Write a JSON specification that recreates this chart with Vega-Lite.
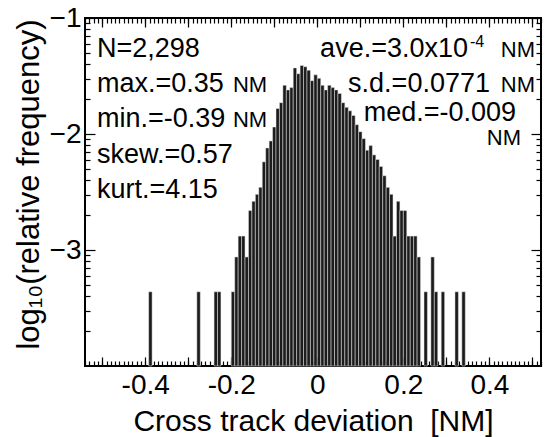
{
  "$schema": "https://vega.github.io/schema/vega-lite/v6.json",
  "width": 456,
  "height": 348,
  "autosize": {"type": "none"},
  "padding": {"left": 85, "top": 18, "right": 7, "bottom": 71},
  "background": "white",
  "config": {
    "view": {"stroke": "black", "strokeWidth": 2},
    "font": "Liberation Sans",
    "axis": {
      "labelFont": "Liberation Sans",
      "titleFont": "Liberation Sans",
      "labelColor": "black",
      "titleColor": "black",
      "tickColor": "black",
      "tickWidth": 1.2,
      "domain": false,
      "grid": false,
      "labelOverlap": false,
      "labelFlush": false,
      "titleFontWeight": "normal"
    }
  },
  "datasets": {
    "hist": [
      {"lo": -0.392, "hi": -0.384, "v": -3.36},
      {"lo": -0.280, "hi": -0.272, "v": -3.36},
      {"lo": -0.240, "hi": -0.232, "v": -3.36},
      {"lo": -0.232, "hi": -0.224, "v": -3.36},
      {"lo": -0.200, "hi": -0.192, "v": -3.36},
      {"lo": -0.192, "hi": -0.184, "v": -3.06},
      {"lo": -0.184, "hi": -0.176, "v": -2.88},
      {"lo": -0.176, "hi": -0.168, "v": -2.88},
      {"lo": -0.168, "hi": -0.160, "v": -3.06},
      {"lo": -0.160, "hi": -0.152, "v": -2.66},
      {"lo": -0.152, "hi": -0.144, "v": -2.58},
      {"lo": -0.144, "hi": -0.136, "v": -2.52},
      {"lo": -0.136, "hi": -0.128, "v": -2.46},
      {"lo": -0.128, "hi": -0.120, "v": -2.24},
      {"lo": -0.120, "hi": -0.112, "v": -2.12},
      {"lo": -0.112, "hi": -0.104, "v": -2.06},
      {"lo": -0.104, "hi": -0.096, "v": -1.94},
      {"lo": -0.096, "hi": -0.088, "v": -1.78},
      {"lo": -0.088, "hi": -0.080, "v": -1.73},
      {"lo": -0.080, "hi": -0.072, "v": -1.58},
      {"lo": -0.072, "hi": -0.064, "v": -1.62},
      {"lo": -0.064, "hi": -0.056, "v": -1.60},
      {"lo": -0.056, "hi": -0.048, "v": -1.43},
      {"lo": -0.048, "hi": -0.040, "v": -1.48},
      {"lo": -0.040, "hi": -0.032, "v": -1.41},
      {"lo": -0.032, "hi": -0.024, "v": -1.42},
      {"lo": -0.024, "hi": -0.016, "v": -1.45},
      {"lo": -0.016, "hi": -0.008, "v": -1.54},
      {"lo": -0.008, "hi": 0.000, "v": -1.49},
      {"lo": 0.000, "hi": 0.008, "v": -1.52},
      {"lo": 0.008, "hi": 0.016, "v": -1.58},
      {"lo": 0.016, "hi": 0.024, "v": -1.62},
      {"lo": 0.024, "hi": 0.032, "v": -1.58},
      {"lo": 0.032, "hi": 0.040, "v": -1.60},
      {"lo": 0.040, "hi": 0.048, "v": -1.62},
      {"lo": 0.048, "hi": 0.056, "v": -1.65},
      {"lo": 0.056, "hi": 0.064, "v": -1.73},
      {"lo": 0.064, "hi": 0.072, "v": -1.77},
      {"lo": 0.072, "hi": 0.080, "v": -1.80},
      {"lo": 0.080, "hi": 0.088, "v": -1.84},
      {"lo": 0.088, "hi": 0.096, "v": -1.92},
      {"lo": 0.096, "hi": 0.104, "v": -1.98},
      {"lo": 0.104, "hi": 0.112, "v": -2.04},
      {"lo": 0.112, "hi": 0.120, "v": -2.14},
      {"lo": 0.120, "hi": 0.128, "v": -2.10},
      {"lo": 0.128, "hi": 0.136, "v": -2.18},
      {"lo": 0.136, "hi": 0.144, "v": -2.22},
      {"lo": 0.144, "hi": 0.152, "v": -2.28},
      {"lo": 0.152, "hi": 0.160, "v": -2.36},
      {"lo": 0.160, "hi": 0.168, "v": -2.46},
      {"lo": 0.168, "hi": 0.176, "v": -2.52},
      {"lo": 0.176, "hi": 0.184, "v": -2.88},
      {"lo": 0.184, "hi": 0.192, "v": -2.58},
      {"lo": 0.192, "hi": 0.200, "v": -2.66},
      {"lo": 0.200, "hi": 0.208, "v": -2.66},
      {"lo": 0.208, "hi": 0.216, "v": -2.88},
      {"lo": 0.216, "hi": 0.224, "v": -2.88},
      {"lo": 0.224, "hi": 0.232, "v": -2.88},
      {"lo": 0.232, "hi": 0.240, "v": -3.06},
      {"lo": 0.248, "hi": 0.256, "v": -3.36},
      {"lo": 0.264, "hi": 0.272, "v": -3.06},
      {"lo": 0.272, "hi": 0.280, "v": -3.36},
      {"lo": 0.288, "hi": 0.296, "v": -3.36},
      {"lo": 0.320, "hi": 0.328, "v": -3.36},
      {"lo": 0.336, "hi": 0.344, "v": -3.36}
    ]
  },
  "layer": [
    {
      "data": {"name": "hist"},
      "mark": {"type": "bar", "fill": "#1c1c1c", "stroke": "#e8e8e8", "strokeWidth": 0.5},
      "encoding": {
        "x": {
          "field": "lo", "type": "quantitative",
          "scale": {"domain": [-0.54, 0.52], "nice": false, "zero": false},
          "axis": {
            "orient": "bottom",
            "offset": -9,
            "tickSize": 9,
            "values": [-0.5, -0.4, -0.3, -0.2, -0.1, 0, 0.1, 0.2, 0.3, 0.4, 0.5],
            "labelExpr": "abs(datum.value*5 - round(datum.value*5)) < 0.001 ? toString(datum.value) : ''",
            "labelFontSize": 28,
            "labelPadding": 5,
            "title": "Cross track deviation \u00a0[NM]",
            "titleFontSize": 30,
            "titleBaseline": "alphabetic",
            "titleAlign": "center",
            "titleY": 73
          }
        },
        "x2": {"field": "hi"},
        "y": {
          "field": "v", "type": "quantitative",
          "scale": {"domain": [-4, -1], "nice": false, "zero": false},
          "axis": {
            "orient": "left",
            "offset": -10,
            "tickSize": 10,
            "values": [-1, -2, -3],
            "labelFontSize": 28,
            "labelPadding": 4,
            "title": "log₁₀(relative frequency)",
            "titleFontSize": 31,
            "titleAngle": -90,
            "titleAlign": "center",
            "titleBaseline": "middle",
            "titleX": -66,
            "titleY": 166
          }
        },
        "y2": {"datum": -4}
      }
    },
    {
      "data": {"name": "hist"},
      "mark": {"type": "bar", "opacity": 0},
      "encoding": {
        "x": {
          "field": "lo", "type": "quantitative",
          "scale": {"domain": [-0.54, 0.52], "nice": false, "zero": false},
          "axis": {
            "orient": "bottom",
            "offset": -5,
            "tickSize": 5,
            "values": [-0.54,-0.53,-0.52,-0.51,-0.5,-0.49,-0.48,-0.47,-0.46,-0.45,-0.44,-0.43,-0.42,-0.41,-0.4,-0.39,-0.38,-0.37,-0.36,-0.35,-0.34,-0.33,-0.32,-0.31,-0.3,-0.29,-0.28,-0.27,-0.26,-0.25,-0.24,-0.23,-0.22,-0.21,-0.2,-0.19,-0.18,-0.17,-0.16,-0.15,-0.14,-0.13,-0.12,-0.11,-0.1,-0.09,-0.08,-0.07,-0.06,-0.05,-0.04,-0.03,-0.02,-0.01,0,0.01,0.02,0.03,0.04,0.05,0.06,0.07,0.08,0.09,0.1,0.11,0.12,0.13,0.14,0.15,0.16,0.17,0.18,0.19,0.2,0.21,0.22,0.23,0.24,0.25,0.26,0.27,0.28,0.29,0.3,0.31,0.32,0.33,0.34,0.35,0.36,0.37,0.38,0.39,0.4,0.41,0.42,0.43,0.44,0.45,0.46,0.47,0.48,0.49,0.5,0.51,0.52],
            "labels": false,
            "title": null
          }
        },
        "x2": {"field": "hi"},
        "y": {
          "field": "v", "type": "quantitative",
          "scale": {"domain": [-4, -1], "nice": false, "zero": false},
          "axis": {
            "orient": "left",
            "offset": -5,
            "tickSize": 5,
            "values": [-1.04576, -1.09691, -1.1549, -1.22185, -1.30103, -1.39794, -1.52288, -1.69897, -2.04576, -2.09691, -2.1549, -2.22185, -2.30103, -2.39794, -2.52288, -2.69897, -3.04576, -3.09691, -3.1549, -3.22185, -3.30103, -3.39794, -3.52288, -3.69897],
            "labels": false,
            "title": null
          }
        },
        "y2": {"datum": -4}
      }
    },
    {
      "data": {"name": "hist"},
      "mark": {"type": "bar", "opacity": 0},
      "encoding": {
        "x": {
          "field": "lo", "type": "quantitative",
          "scale": {"domain": [-0.54, 0.52], "nice": false, "zero": false},
          "axis": {
            "orient": "top",
            "offset": -9,
            "tickSize": 9,
            "values": [-0.5, -0.4, -0.3, -0.2, -0.1, 0, 0.1, 0.2, 0.3, 0.4, 0.5],
            "labels": false,
            "title": null
          }
        },
        "x2": {"field": "hi"},
        "y": {
          "field": "v", "type": "quantitative",
          "scale": {"domain": [-4, -1], "nice": false, "zero": false},
          "axis": {
            "orient": "right",
            "offset": -10,
            "tickSize": 10,
            "values": [-1, -2, -3],
            "labels": false,
            "title": null
          }
        },
        "y2": {"datum": -4}
      }
    },
    {
      "data": {"name": "hist"},
      "mark": {"type": "bar", "opacity": 0},
      "encoding": {
        "x": {
          "field": "lo", "type": "quantitative",
          "scale": {"domain": [-0.54, 0.52], "nice": false, "zero": false},
          "axis": {
            "orient": "top",
            "offset": -5,
            "tickSize": 5,
            "values": [-0.54,-0.53,-0.52,-0.51,-0.5,-0.49,-0.48,-0.47,-0.46,-0.45,-0.44,-0.43,-0.42,-0.41,-0.4,-0.39,-0.38,-0.37,-0.36,-0.35,-0.34,-0.33,-0.32,-0.31,-0.3,-0.29,-0.28,-0.27,-0.26,-0.25,-0.24,-0.23,-0.22,-0.21,-0.2,-0.19,-0.18,-0.17,-0.16,-0.15,-0.14,-0.13,-0.12,-0.11,-0.1,-0.09,-0.08,-0.07,-0.06,-0.05,-0.04,-0.03,-0.02,-0.01,0,0.01,0.02,0.03,0.04,0.05,0.06,0.07,0.08,0.09,0.1,0.11,0.12,0.13,0.14,0.15,0.16,0.17,0.18,0.19,0.2,0.21,0.22,0.23,0.24,0.25,0.26,0.27,0.28,0.29,0.3,0.31,0.32,0.33,0.34,0.35,0.36,0.37,0.38,0.39,0.4,0.41,0.42,0.43,0.44,0.45,0.46,0.47,0.48,0.49,0.5,0.51,0.52],
            "labels": false,
            "title": null
          }
        },
        "x2": {"field": "hi"},
        "y": {
          "field": "v", "type": "quantitative",
          "scale": {"domain": [-4, -1], "nice": false, "zero": false},
          "axis": {
            "orient": "right",
            "offset": -5,
            "tickSize": 5,
            "values": [-1.04576, -1.09691, -1.1549, -1.22185, -1.30103, -1.39794, -1.52288, -1.69897, -2.04576, -2.09691, -2.1549, -2.22185, -2.30103, -2.39794, -2.52288, -2.69897, -3.04576, -3.09691, -3.1549, -3.22185, -3.30103, -3.39794, -3.52288, -3.69897],
            "labels": false,
            "title": null
          }
        },
        "y2": {"datum": -4}
      }
    },
    {
      "data": {"values": [
        {"x": -0.512, "y": -1.336, "t": "N=2,298"},
        {"x": -0.512, "y": -1.638, "t": "max.=0.35"},
        {"x": -0.512, "y": -1.940, "t": "min.=-0.39"},
        {"x": -0.512, "y": -2.250, "t": "skew.=0.57"},
        {"x": -0.512, "y": -2.552, "t": "kurt.=4.15"}
      ]},
      "mark": {"type": "text", "align": "left", "baseline": "alphabetic", "fontSize": 27, "font": "Liberation Sans", "color": "black"},
      "encoding": {
        "x": {"field": "x", "type": "quantitative", "scale": {"domain": [-0.54, 0.52], "nice": false, "zero": false}, "axis": null},
        "y": {"field": "y", "type": "quantitative", "scale": {"domain": [-4, -1], "nice": false, "zero": false}, "axis": null},
        "text": {"field": "t"}
      }
    },
    {
      "data": {"values": [
        {"x": -0.196, "y": -1.638, "t": "NM"},
        {"x": -0.196, "y": -1.940, "t": "NM"}
      ]},
      "mark": {"type": "text", "align": "left", "baseline": "alphabetic", "fontSize": 22, "font": "Liberation Sans", "color": "black"},
      "encoding": {
        "x": {"field": "x", "type": "quantitative", "scale": {"domain": [-0.54, 0.52], "nice": false, "zero": false}, "axis": null},
        "y": {"field": "y", "type": "quantitative", "scale": {"domain": [-4, -1], "nice": false, "zero": false}, "axis": null},
        "text": {"field": "t"}
      }
    },
    {
      "data": {"values": [
        {"x": 0.3503, "y": -1.336, "t": "ave.=3.0x10"},
        {"x": 0.4014, "y": -1.638, "t": "s.d.=0.0771"},
        {"x": 0.4619, "y": -1.888, "t": "med.=-0.009"}
      ]},
      "mark": {"type": "text", "align": "right", "baseline": "alphabetic", "fontSize": 27, "font": "Liberation Sans", "color": "black"},
      "encoding": {
        "x": {"field": "x", "type": "quantitative", "scale": {"domain": [-0.54, 0.52], "nice": false, "zero": false}, "axis": null},
        "y": {"field": "y", "type": "quantitative", "scale": {"domain": [-4, -1], "nice": false, "zero": false}, "axis": null},
        "text": {"field": "t"}
      }
    },
    {
      "data": {"values": [
        {"x": 0.3549, "y": -1.25, "t": "-4"}
      ]},
      "mark": {"type": "text", "align": "left", "baseline": "alphabetic", "fontSize": 16, "font": "Liberation Sans", "color": "black"},
      "encoding": {
        "x": {"field": "x", "type": "quantitative", "scale": {"domain": [-0.54, 0.52], "nice": false, "zero": false}, "axis": null},
        "y": {"field": "y", "type": "quantitative", "scale": {"domain": [-4, -1], "nice": false, "zero": false}, "axis": null},
        "text": {"field": "t"}
      }
    },
    {
      "data": {"values": [
        {"x": 0.506, "y": -1.336, "t": "NM"},
        {"x": 0.506, "y": -1.638, "t": "NM"},
        {"x": 0.4735, "y": -2.095, "t": "NM"}
      ]},
      "mark": {"type": "text", "align": "right", "baseline": "alphabetic", "fontSize": 22, "font": "Liberation Sans", "color": "black"},
      "encoding": {
        "x": {"field": "x", "type": "quantitative", "scale": {"domain": [-0.54, 0.52], "nice": false, "zero": false}, "axis": null},
        "y": {"field": "y", "type": "quantitative", "scale": {"domain": [-4, -1], "nice": false, "zero": false}, "axis": null},
        "text": {"field": "t"}
      }
    }
  ],
  "resolve": {"axis": {"x": "independent", "y": "independent"}}
}
